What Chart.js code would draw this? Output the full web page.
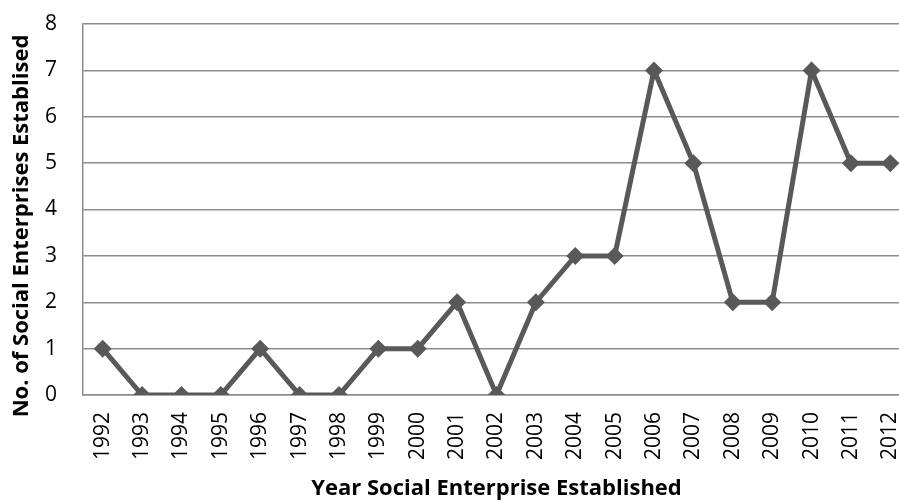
<!DOCTYPE html>
<html>
<head>
<meta charset="utf-8">
<script src="https://cdn.jsdelivr.net/npm/chart.js@4"></script>
<style>
  html, body { margin: 0; padding: 0; background: #fff; }
  #wrap { width: 899px; height: 502px; overflow: hidden; }
</style>
</head>
<body>
<div id="wrap"><canvas id="chart" width="919" height="502"></canvas></div>
<script>
// data
const years = ["1992","1993","1994","1995","1996","1997","1998","1999","2000","2001",
               "2002","2003","2004","2005","2006","2007","2008","2009","2010","2011","2012"];
const counts = [1, 0, 0, 0, 1, 0, 0, 1, 1, 2, 0, 2, 3, 3, 7, 5, 2, 2, 7, 5, 5];
const yTicks = [0, 1, 2, 3, 4, 5, 6, 7, 8];

const xTitle = "Year Social Enterprise Established";
const yTitle = "No. of Social Enterprises Establised";

const FONT = "'Open Sans'";
const LINE = "#595959";
const GRID = "#8c8c8c";

// y title drawn by hand: the original sits a bit lower than the plot centre
const yTitlePlugin = {
  id: "yTitle",
  afterDraw(chart) {
    const ctx = chart.ctx;
    ctx.save();
    ctx.translate(22, 226);
    ctx.rotate(-Math.PI / 2);
    ctx.font = "bold 22px " + FONT;
    ctx.fillStyle = "#000";
    ctx.textAlign = "center";
    ctx.textBaseline = "middle";
    ctx.fillText(yTitle, 0, 0);
    ctx.restore();
  }
};

new Chart(document.getElementById("chart"), {
  type: "line",
  data: {
    labels: years,
    datasets: [{
      data: counts,
      borderColor: LINE,
      backgroundColor: LINE,
      borderWidth: 5,
      pointStyle: "rectRot",
      pointRadius: 9,
      pointBorderWidth: 0,
      tension: 0,
      fill: false
    }]
  },
  options: {
    responsive: false,
    animation: false,
    layout: { padding: { top: 24, right: 0, left: 0, bottom: 0 } },
    plugins: { legend: { display: false }, title: { display: false }, tooltip: { enabled: false } },
    scales: {
      x: {
        offset: true,
        grid: { display: false, drawTicks: true, tickLength: 15, tickColor: "rgba(0,0,0,0)" },
        border: { display: true, color: GRID, width: 1.5 },
        ticks: {
          color: "#000",
          font: { family: FONT, size: 21 },
          minRotation: 90, maxRotation: 90,
          padding: 2,
          autoSkip: false
        },
        title: {
          display: true,
          text: xTitle,
          color: "#000",
          font: { family: FONT, size: 22, weight: "bold" },
          padding: { top: 0, bottom: 0 }
        },
        afterFit: s => { s.height = 107; s.paddingLeft = 0; s.paddingRight = 0; }
      },
      y: {
        min: 0,
        max: 8,
        afterBuildTicks: s => { s.ticks = yTicks.map(v => ({ value: v })); },
        grid: { color: GRID, lineWidth: 1.5, drawTicks: true, tickLength: 24, tickColor: "rgba(0,0,0,0)" },
        border: { display: true, color: GRID, width: 1.5 },
        ticks: {
          color: "#000",
          font: { family: FONT, size: 21 },
          padding: 2
        },
        title: { display: false },
        afterFit: s => { s.width = 83; s.paddingTop = 0; s.paddingBottom = 0; }
      }
    }
  },
  plugins: [yTitlePlugin]
});
</script>
</body>
</html>
